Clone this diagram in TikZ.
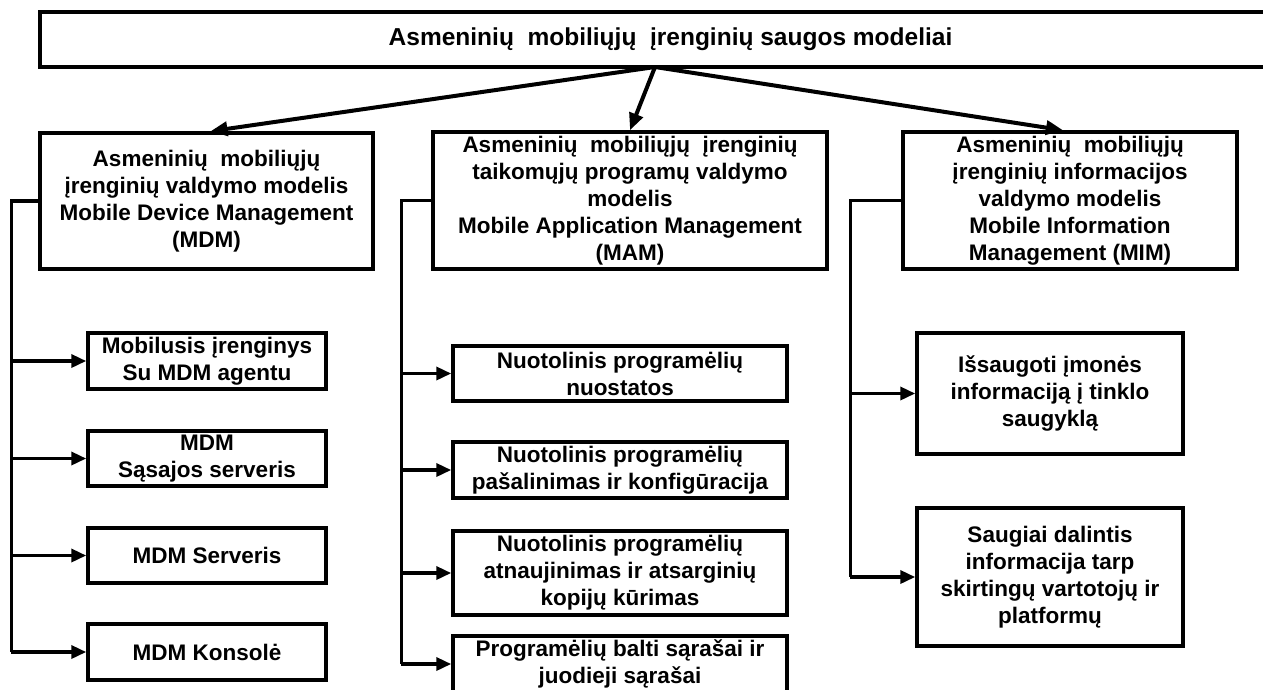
\documentclass[tikz,border=0pt]{standalone}
\usepackage{fontspec}
\setmainfont{Liberation Sans}
\usetikzlibrary{arrows.meta}
\begin{document}
\begin{tikzpicture}[x=1pt,y=-1pt,
  box/.style={draw, line width=3.5pt, align=center, inner sep=0pt,
    font=\fontsize{22.5}{27}\selectfont\bfseries},
  conn/.style={line width=3.5pt},
  arr/.style={line width=3.5pt, -{Triangle[length=15pt,width=13pt]}},
  bigarr/.style={line width=4pt, -{Triangle[length=17pt,width=14pt]}}
]
\useasboundingbox (0,0) rectangle (1263,689);
\clip (0,0) rectangle (1263,689);

% root
\node[box, minimum width=1261pt, minimum height=55pt,
      font=\fontsize{24.5}{29}\selectfont\bfseries] (top) at (670.5,39.5)
  {Asmeninių\ \ mobiliųjų\ \ įrenginių saugos modeliai};
\coordinate (src) at (655,67);

% the three models
\node[box, minimum width=333pt, minimum height=136pt] (mdm) at (206.5,201)
  {Asmeninių\ \ mobiliųjų\\įrenginių valdymo modelis\\Mobile Device Management\\(MDM)};
\node[box, minimum width=394pt, minimum height=137pt] (mam) at (630,200.5)
  {Asmeninių\ \ mobiliųjų\ \ įrenginių\\taikomųjų programų valdymo\\modelis\\Mobile Application Management\\(MAM)};
\node[box, minimum width=334pt, minimum height=137pt] (mim) at (1070,200.5)
  {Asmeninių\ \ mobiliųjų\\įrenginių informacijos\\valdymo modelis\\Mobile Information\\Management (MIM)};

% MDM components
\node[box, minimum width=238pt, minimum height=56pt] (c1) at (207,361)
  {Mobilusis įrenginys\\Su MDM agentu};
\node[box, minimum width=238pt, minimum height=55pt] (c2) at (207,458.5)
  {MDM\\Sąsajos serveris};
\node[box, minimum width=238pt, minimum height=55pt] (c3) at (207,555.5)
  {MDM Serveris};
\node[box, minimum width=238pt, minimum height=56pt] (c4) at (207,652)
  {MDM Konsolė};

% MAM components
\node[box, minimum width=334pt, minimum height=55pt] (m1) at (620,373.5)
  {Nuotolinis programėlių\\nuostatos};
\node[box, minimum width=334pt, minimum height=56pt] (m2) at (620,470)
  {Nuotolinis programėlių\\pašalinimas ir konfigūracija};
\node[box, minimum width=334pt, minimum height=84pt] (m3) at (620,573)
  {Nuotolinis programėlių\\atnaujinimas ir atsarginių\\kopijų kūrimas};
\node[box, minimum width=334pt, minimum height=56pt] (m4) at (620,664)
  {Programėlių balti sąrašai ir\\juodieji sąrašai};

% MIM components
\node[box, minimum width=266pt, minimum height=121pt] (r1) at (1050,393.5)
  {Išsaugoti įmonės\\informaciją į tinklo\\saugyklą};
\node[box, minimum width=266pt, minimum height=138pt] (r2) at (1050,577)
  {Saugiai dalintis\\informacija tarp\\skirtingų vartotojų ir\\platformų};

% root to models
\draw[bigarr] (src) -- ([xshift=4pt]mdm.north);
\draw[bigarr] (src) -- (mam.north);
\draw[bigarr] (src) -- ([xshift=-7pt]mim.north);

% MDM branch
\draw[conn] (mdm.west) -- ++(-27,0) coordinate (ml) -- (ml |- c4.west);
\foreach \c in {c1,c2,c3,c4} \draw[arr] (ml |- \c.west) -- (\c.west);

% MAM branch
\draw[conn] (mam.west) -- ++(-30,0) coordinate (mm) -- (mm |- m4.west);
\foreach \c in {m1,m2,m3,m4} \draw[arr] (mm |- \c.west) -- (\c.west);

% MIM branch
\draw[conn] (mim.west) -- ++(-51,0) coordinate (mr) -- (mr |- r2.west);
\foreach \c in {r1,r2} \draw[arr] (mr |- \c.west) -- (\c.west);
\end{tikzpicture}
\end{document}
